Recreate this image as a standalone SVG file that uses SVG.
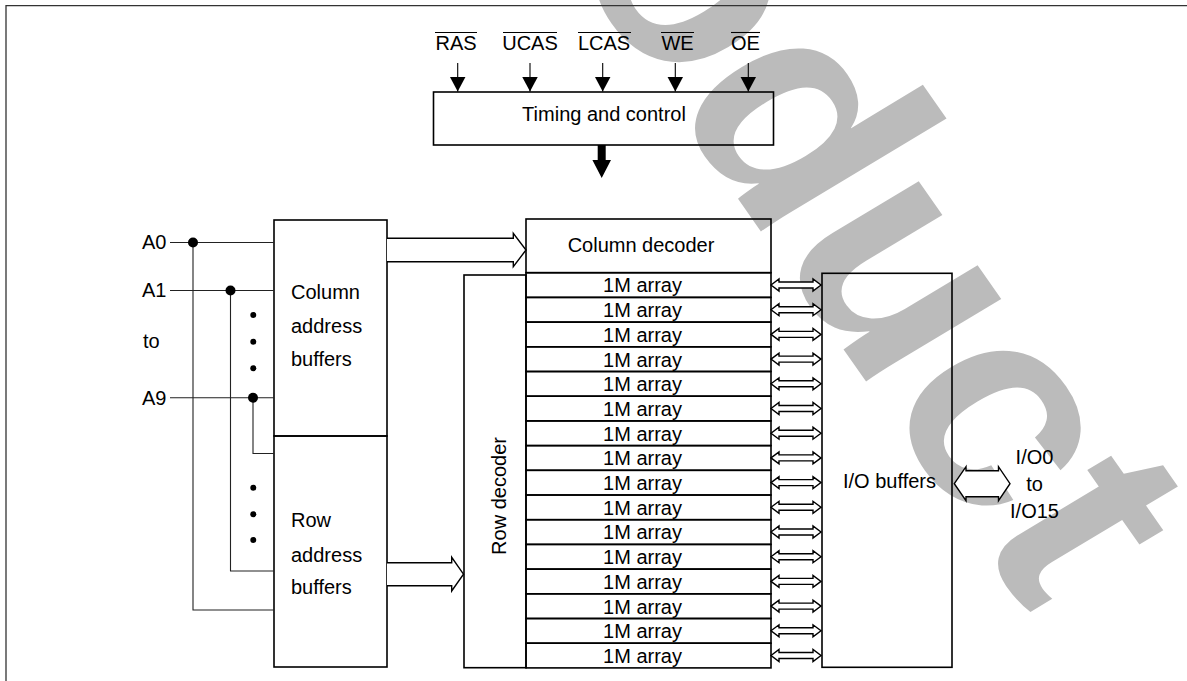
<svg xmlns="http://www.w3.org/2000/svg" xmlns:xlink="http://www.w3.org/1999/xlink" width="1187" height="681" viewBox="0 0 1187 681">
<style>
text{font-family:"Liberation Sans",Arial,sans-serif;font-size:20px;fill:#000}
.box{fill:none;stroke:#000;stroke-width:1.6}
.wire{fill:none;stroke:#222;stroke-width:1.1}
.dot{fill:#000}
.mid{text-anchor:middle}
.sig{stroke:#000;stroke-width:1.1}
.harrow{fill:#fff;stroke:#000;stroke-width:1.4;stroke-linejoin:miter}
.wm{font-family:"Liberation Sans",Arial,sans-serif;font-weight:bold;font-size:300px;fill:#bbb}
</style>
<defs>
<path id="bidir" class="harrow" d="M771,0 L779,-6 V-3 H813 V-6 L821,0 L813,6 V3 H779 V6 Z"/>
<marker id="tri" viewBox="0 0 15 16" refX="15" refY="8" markerWidth="15" markerHeight="16" markerUnits="userSpaceOnUse" orient="auto">
<path d="M0,0 L15,8 L0,16 Z" fill="#000"/>
</marker>
</defs>
<rect width="1187" height="681" fill="#fff"/>
<g id="watermark">
<text class="wm" transform="matrix(0.574,0.819,-0.857,0.515,380,-312)">Product</text>
</g>
<g id="frame">
<path d="M6,681 V5.7 H1187" fill="none" stroke="#333" stroke-width="1.3"/>
</g>
<g id="signals">
<text class="mid" x="456" y="50">RAS</text>
<text class="mid" x="530" y="50">UCAS</text>
<text class="mid" x="604" y="50">LCAS</text>
<text class="mid" x="677.5" y="50">WE</text>
<text class="mid" x="745.5" y="50">OE</text>
<g class="sig">
<line x1="435" y1="32.5" x2="477" y2="32.5"/>
<line x1="503" y1="32.5" x2="557" y2="32.5"/>
<line x1="578" y1="32.5" x2="631" y2="32.5"/>
<line x1="661" y1="32.5" x2="694" y2="32.5"/>
<line x1="731" y1="32.5" x2="760" y2="32.5"/>
</g>
</g>
<g id="timing-control">
<rect class="box" x="433.5" y="92" width="340" height="53"/>
<text class="mid" x="604" y="121">Timing and control</text>
</g>
<g id="column-address-buffers">
<rect class="box" x="274" y="220" width="113" height="216"/>
<text x="291" y="299">Column</text>
<text x="291" y="333">address</text>
<text x="291" y="366">buffers</text>
</g>
<g id="row-address-buffers">
<rect class="box" x="274" y="436" width="113" height="231"/>
<text x="291" y="527">Row</text>
<text x="291" y="561.5">address</text>
<text x="291" y="594">buffers</text>
</g>
<g id="column-decoder">
<rect class="box" x="526" y="219" width="245" height="53.7"/>
<text class="mid" x="641" y="252">Column decoder</text>
</g>
<g id="row-decoder">
<rect class="box" x="464" y="275" width="62" height="392.7"/>
<text class="mid" transform="translate(506,496) rotate(-90)">Row decoder</text>
</g>
<g id="arrays">
<rect class="box" x="526" y="272.7" width="245" height="24.7"/><text class="mid" x="642.5" y="292.4">1M array</text>
<rect class="box" x="526" y="297.4" width="245" height="24.7"/><text class="mid" x="642.5" y="317.1">1M array</text>
<rect class="box" x="526" y="322.1" width="245" height="24.7"/><text class="mid" x="642.5" y="341.8">1M array</text>
<rect class="box" x="526" y="346.8" width="245" height="24.7"/><text class="mid" x="642.5" y="366.5">1M array</text>
<rect class="box" x="526" y="371.5" width="245" height="24.7"/><text class="mid" x="642.5" y="391.2">1M array</text>
<rect class="box" x="526" y="396.2" width="245" height="24.7"/><text class="mid" x="642.5" y="415.9">1M array</text>
<rect class="box" x="526" y="420.9" width="245" height="24.7"/><text class="mid" x="642.5" y="440.6">1M array</text>
<rect class="box" x="526" y="445.6" width="245" height="24.7"/><text class="mid" x="642.5" y="465.3">1M array</text>
<rect class="box" x="526" y="470.3" width="245" height="24.7"/><text class="mid" x="642.5" y="490.0">1M array</text>
<rect class="box" x="526" y="495.0" width="245" height="24.7"/><text class="mid" x="642.5" y="514.7">1M array</text>
<rect class="box" x="526" y="519.7" width="245" height="24.7"/><text class="mid" x="642.5" y="539.4">1M array</text>
<rect class="box" x="526" y="544.4" width="245" height="24.7"/><text class="mid" x="642.5" y="564.1">1M array</text>
<rect class="box" x="526" y="569.1" width="245" height="24.7"/><text class="mid" x="642.5" y="588.8">1M array</text>
<rect class="box" x="526" y="593.8" width="245" height="24.7"/><text class="mid" x="642.5" y="613.5">1M array</text>
<rect class="box" x="526" y="618.5" width="245" height="24.7"/><text class="mid" x="642.5" y="638.2">1M array</text>
<rect class="box" x="526" y="643.2" width="245" height="24.7"/><text class="mid" x="642.5" y="662.9">1M array</text>
</g>
<g id="io-buffers">
<rect class="box" x="822" y="273.3" width="130" height="394"/>
<text class="mid" x="889.5" y="488">I/O buffers</text>
</g>
<g id="labels">
<text x="142" y="249">A0</text>
<text x="142" y="297">A1</text>
<text x="143" y="348">to</text>
<text x="142" y="404.5">A9</text>
<text class="mid" x="1034.5" y="463.5">I/O0</text>
<text class="mid" x="1034.5" y="491">to</text>
<text class="mid" x="1034.5" y="518">I/O15</text>
</g>
<g id="connectors">
<line class="sig" x1="457.7" y1="63" x2="457.7" y2="91.5" marker-end="url(#tri)"/>
<line class="sig" x1="530" y1="63" x2="530" y2="91.5" marker-end="url(#tri)"/>
<line class="sig" x1="602.7" y1="63" x2="602.7" y2="91.5" marker-end="url(#tri)"/>
<line class="sig" x1="675.3" y1="63" x2="675.3" y2="91.5" marker-end="url(#tri)"/>
<line class="sig" x1="748.3" y1="63" x2="748.3" y2="91.5" marker-end="url(#tri)"/>
<path d="M597.7,145 H605.7 V160 H611 L601.7,178 L592.4,160 H597.7 Z" fill="#000"/>
<path class="harrow" d="M387,238.3 H513.3 V233.3 L526,250 L513.3,266.7 V261.7 H387"/>
<path class="harrow" d="M387,562.7 H451.7 V557.3 L463.5,574.2 L451.7,591 V585.7 H387"/>
<path class="wire" d="M170,242.5 H274 M193,242.5 V610 H274"/>
<path class="wire" d="M170,290.5 H274 M230.5,290.5 V571 H274"/>
<path class="wire" d="M170,397.7 H274 M253,397.7 V453.5 H274"/>
<circle class="dot" cx="193" cy="242.5" r="5"/>
<circle class="dot" cx="230.5" cy="290.5" r="5"/>
<circle class="dot" cx="253" cy="397.7" r="5"/>
<circle class="dot" cx="253.3" cy="315" r="3"/>
<circle class="dot" cx="253.3" cy="341.7" r="3"/>
<circle class="dot" cx="253.3" cy="368.3" r="3"/>
<circle class="dot" cx="253.3" cy="487.7" r="3"/>
<circle class="dot" cx="253.3" cy="514.3" r="3"/>
<circle class="dot" cx="253.3" cy="540" r="3"/>
<use href="#bidir" y="285.0"/>
<use href="#bidir" y="309.7"/>
<use href="#bidir" y="334.4"/>
<use href="#bidir" y="359.1"/>
<use href="#bidir" y="383.8"/>
<use href="#bidir" y="408.5"/>
<use href="#bidir" y="433.2"/>
<use href="#bidir" y="457.9"/>
<use href="#bidir" y="482.6"/>
<use href="#bidir" y="507.3"/>
<use href="#bidir" y="532.0"/>
<use href="#bidir" y="556.7"/>
<use href="#bidir" y="581.4"/>
<use href="#bidir" y="606.1"/>
<use href="#bidir" y="630.8"/>
<use href="#bidir" y="655.5"/>
<path class="harrow" d="M954.3,483.7 L966,466.7 V470.7 H998.5 V466.7 L1010,483.7 L998.5,500.7 V496.7 H966 V500.7 Z"/>
</g>
</svg>
